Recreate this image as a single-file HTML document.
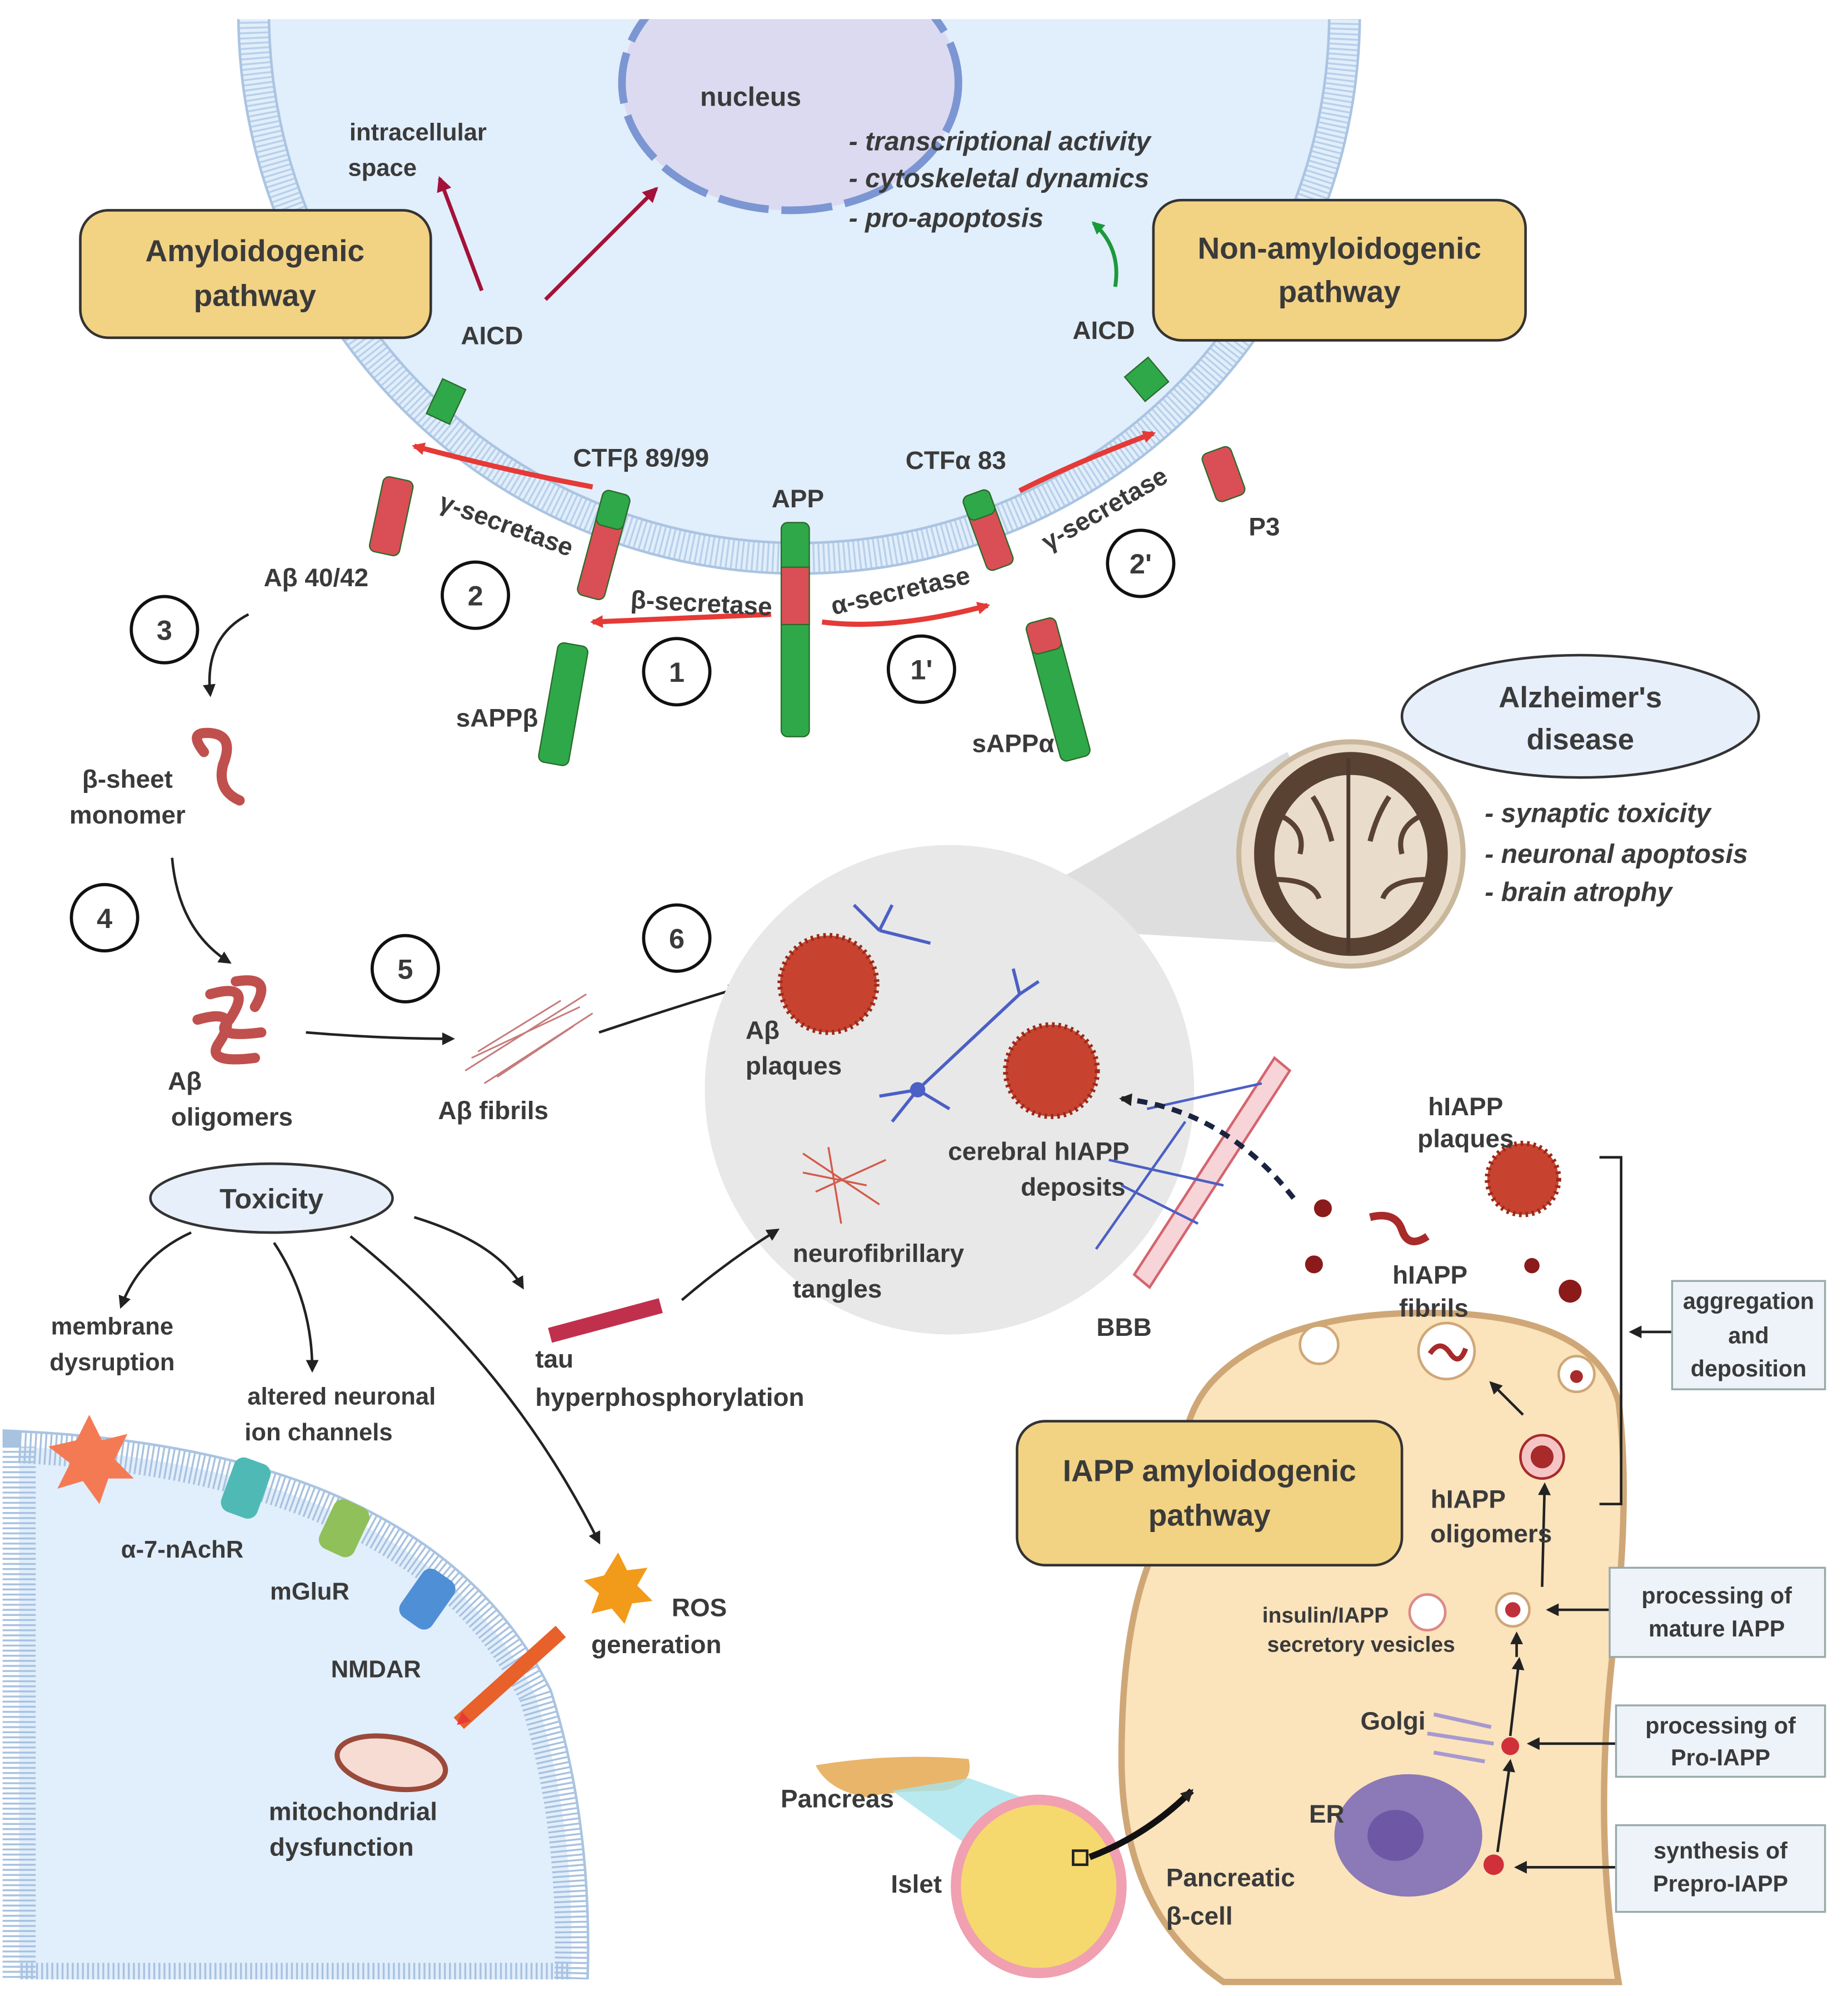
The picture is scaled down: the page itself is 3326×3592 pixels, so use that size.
<!DOCTYPE html>
<html><head><meta charset="utf-8"><style>
html,body{margin:0;padding:0;background:#fff}
svg{display:block}
text{font-family:"Liberation Sans",sans-serif;font-weight:bold;fill:#3a3a3a}
.it{font-style:italic;font-weight:bold}
</style></head><body>
<svg width="3326" height="3592" viewBox="0 0 1450 1566" xmlns="http://www.w3.org/2000/svg">
<defs>
<marker id="ar" markerWidth="10" markerHeight="10" refX="8" refY="5" orient="auto" markerUnits="userSpaceOnUse"><path d="M0,0 L10,5 L0,10 Z" fill="#e53a36"/></marker>
<marker id="ad" markerWidth="12" markerHeight="12" refX="10" refY="6" orient="auto" markerUnits="userSpaceOnUse"><path d="M0,0 L12,6 L0,12 Z" fill="#a3123a"/></marker>
<marker id="ak" markerWidth="10" markerHeight="10" refX="8" refY="5" orient="auto" markerUnits="userSpaceOnUse"><path d="M0,0 L10,5 L0,10 Z" fill="#222"/></marker>
<marker id="ag" markerWidth="10" markerHeight="10" refX="8" refY="5" orient="auto" markerUnits="userSpaceOnUse"><path d="M0,0 L10,5 L0,10 Z" fill="#1a9a3a"/></marker>
</defs>
<rect width="1450" height="1566" fill="#fff"/>
<!-- top cell -->
<circle cx="627" cy="10" r="440" fill="#e1eefb"/>
<circle cx="627" cy="10" r="428" fill="none" stroke="#b8d0ea" stroke-width="24" stroke-dasharray="1.5 2.5"/>
<circle cx="627" cy="10" r="440" fill="none" stroke="#aac4e2" stroke-width="2"/>
<circle cx="627" cy="10" r="416" fill="none" stroke="#aac4e2" stroke-width="2"/>
<rect x="0" y="0" width="1450" height="15" fill="#fff"/>
<!-- nucleus -->
<ellipse cx="620" cy="65" rx="132" ry="100" fill="#dcdaf0" stroke="#7b96d2" stroke-width="6" stroke-dasharray="40 10"/>
<rect x="0" y="0" width="1450" height="15" fill="#fff"/>
<text x="589" y="83" font-size="21" text-anchor="middle">nucleus</text>
<text x="666" y="118" font-size="21" class="it">- transcriptional activity</text>
<text x="666" y="147" font-size="21" class="it">- cytoskeletal dynamics</text>
<text x="666" y="178" font-size="21" class="it">- pro-apoptosis</text>
<text x="328" y="110" font-size="19" text-anchor="middle">intracellular</text>
<text x="300" y="138" font-size="19" text-anchor="middle">space</text>
<line x1="378" y1="228" x2="345" y2="140" stroke="#a3123a" stroke-width="3" marker-end="url(#ad)"/>
<line x1="428" y1="235" x2="515" y2="148" stroke="#a3123a" stroke-width="3" marker-end="url(#ad)"/>
<path d="M875,225 Q880,195 858,175" fill="none" stroke="#1a9a3a" stroke-width="3" marker-end="url(#ag)"/>
<!-- boxes -->
<rect x="63" y="165" width="275" height="100" rx="22" fill="#f2d283" stroke="#333" stroke-width="2"/>
<text x="200" y="205" font-size="24" text-anchor="middle">Amyloidogenic</text>
<text x="200" y="240" font-size="24" text-anchor="middle">pathway</text>
<rect x="905" y="157" width="292" height="110" rx="22" fill="#f2d283" stroke="#333" stroke-width="2"/>
<text x="1051" y="203" font-size="24" text-anchor="middle">Non-amyloidogenic</text>
<text x="1051" y="237" font-size="24" text-anchor="middle">pathway</text>
<text x="386" y="270" font-size="20" text-anchor="middle">AICD</text>
<text x="866" y="266" font-size="20" text-anchor="middle">AICD</text>
<text x="503" y="366" font-size="20" text-anchor="middle">CTFβ 89/99</text>
<text x="750" y="368" font-size="20" text-anchor="middle">CTFα 83</text>
<text x="626" y="398" font-size="20" text-anchor="middle">APP</text>
<text x="992" y="420" font-size="20" text-anchor="middle">P3</text>
<text x="248" y="460" font-size="20" text-anchor="middle">Aβ 40/42</text>
<text x="390" y="570" font-size="20" text-anchor="middle">sAPPβ</text>
<text x="795" y="590" font-size="20" text-anchor="middle">sAPPα</text>
<!-- cylinders -->
<g stroke="#2a6a2a" stroke-width="1">
<rect x="340" y="300" width="20" height="30" fill="#2fa84a" transform="rotate(25 350 315)"/>
<rect x="888" y="285" width="24" height="25" fill="#2fa84a" transform="rotate(-40 900 298)"/>
<rect x="613" y="410" width="22" height="168" rx="5" fill="#2fa84a"/>
<rect x="613" y="445" width="22" height="45" fill="#d94f55"/>
<g transform="rotate(15 473 430)"><rect x="462" y="385" width="22" height="85" rx="5" fill="#d94f55"/><rect x="462" y="385" width="22" height="28" rx="5" fill="#2fa84a"/></g>
<g transform="rotate(-20 775 415)"><rect x="764" y="385" width="22" height="62" rx="5" fill="#d94f55"/><rect x="764" y="385" width="22" height="20" rx="5" fill="#2fa84a"/></g>
<rect x="295" y="375" width="24" height="60" rx="5" fill="#d94f55" transform="rotate(12 307 405)"/>
<rect x="948" y="352" width="24" height="40" rx="5" fill="#d94f55" transform="rotate(-20 960 372)"/>
<rect x="430" y="505" width="24" height="95" rx="5" fill="#2fa84a" transform="rotate(10 442 552)"/>
<g transform="rotate(-15 830 540)"><rect x="818" y="485" width="24" height="112" rx="5" fill="#2fa84a"/><rect x="818" y="485" width="24" height="25" rx="5" fill="#d94f55"/></g>
</g>
<!-- red arrows -->
<line x1="605" y1="482" x2="465" y2="488" stroke="#e53a36" stroke-width="4" marker-end="url(#ar)"/>
<path d="M645,488 Q700,495 775,475" fill="none" stroke="#e53a36" stroke-width="4" marker-end="url(#ar)"/>
<path d="M465,382 Q400,370 325,350" fill="none" stroke="#e53a36" stroke-width="4" marker-end="url(#ar)"/>
<path d="M800,385 Q850,360 905,340" fill="none" stroke="#e53a36" stroke-width="4" marker-end="url(#ar)"/>
<text x="550" y="480" font-size="20" transform="rotate(3 550 480)" text-anchor="middle">β-secretase</text>
<text x="708" y="470" font-size="20" transform="rotate(-13 708 470)" text-anchor="middle">α-secretase</text>
<text x="395" y="418" font-size="20" transform="rotate(20 395 418)" text-anchor="middle">γ-secretase</text>
<text x="870" y="405" font-size="20" transform="rotate(-30 870 405)" text-anchor="middle">γ-secretase</text>
<!-- numbers -->
<g fill="#fff" stroke="#111" stroke-width="2.5">
<circle cx="531" cy="527" r="26"/><circle cx="723" cy="525" r="26"/><circle cx="373" cy="467" r="26"/><circle cx="895" cy="442" r="26"/>
<circle cx="129" cy="494" r="26"/><circle cx="82" cy="720" r="26"/><circle cx="318" cy="760" r="26"/><circle cx="531" cy="736" r="26"/>
</g>
<g font-size="22" text-anchor="middle">
<text x="531" y="535">1</text><text x="723" y="533">1'</text><text x="373" y="475">2</text><text x="895" y="450">2'</text>
<text x="129" y="502">3</text><text x="82" y="728">4</text><text x="318" y="768">5</text><text x="531" y="744">6</text>
</g>
<!-- aggregation path -->
<path d="M195,482 Q160,500 165,545" fill="none" stroke="#222" stroke-width="2" marker-end="url(#ak)"/>
<path d="M160,590 Q148,575 162,575 Q185,575 175,600 Q170,620 188,628" fill="none" stroke="#c0504d" stroke-width="8" stroke-linecap="round"/>
<text x="100" y="618" font-size="20" text-anchor="middle">β-sheet</text>
<text x="100" y="646" font-size="20" text-anchor="middle">monomer</text>
<path d="M135,673 Q140,730 180,755" fill="none" stroke="#222" stroke-width="2" marker-end="url(#ak)"/>
<g fill="none" stroke="#c0504d" stroke-width="8" stroke-linecap="round">
<path d="M165,780 Q200,770 180,800 Q165,815 205,810"/><path d="M155,800 Q190,790 172,818 Q160,835 200,830"/><path d="M185,770 Q215,765 200,790"/>
</g>
<text x="145" y="855" font-size="20" text-anchor="middle">Aβ</text>
<text x="182" y="883" font-size="20" text-anchor="middle">oligomers</text>
<path d="M240,810 Q300,815 355,815" fill="none" stroke="#222" stroke-width="2" marker-end="url(#ak)"/>
<g stroke="#c77a7a" stroke-width="1.3">
<line x1="365" y1="840" x2="460" y2="780"/><line x1="370" y1="830" x2="455" y2="790"/><line x1="380" y1="850" x2="465" y2="795"/><line x1="375" y1="825" x2="440" y2="785"/><line x1="390" y1="845" x2="450" y2="805"/>
</g>
<text x="387" y="878" font-size="20" text-anchor="middle">Aβ fibrils</text>
<path d="M470,810 Q530,790 580,775" fill="none" stroke="#222" stroke-width="2" marker-end="url(#ak)"/>
<!-- grey zoom -->
<polygon points="1010,590 1095,745 680,720 830,690" fill="#d6d6d6" opacity="0.8"/>
<circle cx="745" cy="855" r="192" fill="#e8e8e8"/>
<circle cx="1060" cy="670" r="88" fill="#eadccb" stroke="#c9b79c" stroke-width="4"/>
<ellipse cx="1060" cy="670" rx="76" ry="80" fill="#5a4232"/>
<ellipse cx="1060" cy="672" rx="60" ry="64" fill="#e9dccb"/>
<g stroke="#5a4232" stroke-width="4" fill="none">
<path d="M1005,640 Q1025,650 1020,670 M1000,690 Q1030,690 1035,705 M1115,640 Q1095,650 1100,670 M1120,690 Q1090,690 1085,705 M1030,625 Q1040,640 1045,660 M1090,625 Q1080,640 1075,660"/>
</g>
<line x1="1058" y1="595" x2="1058" y2="748" stroke="#4d3a2e" stroke-width="3"/>
<ellipse cx="1240" cy="562" rx="140" ry="48" fill="#e7effb" stroke="#333" stroke-width="2"/>
<text x="1240" y="555" font-size="23" text-anchor="middle">Alzheimer's</text>
<text x="1240" y="588" font-size="23" text-anchor="middle">disease</text>
<text x="1165" y="645" font-size="21" class="it">- synaptic toxicity</text>
<text x="1165" y="677" font-size="21" class="it">- neuronal apoptosis</text>
<text x="1165" y="707" font-size="21" class="it">- brain atrophy</text>
<circle cx="650" cy="772" r="38" fill="#c8432f" stroke="#9a2a1a" stroke-width="4" stroke-dasharray="2 3"/>
<circle cx="825" cy="840" r="36" fill="#c8432f" stroke="#9a2a1a" stroke-width="4" stroke-dasharray="2 3"/>
<g stroke="#4b5fc4" stroke-width="2.5" fill="none">
<path d="M720,855 L800,780 M720,855 L690,860 M720,855 L700,880 M720,855 L745,870 M800,780 L795,760 M800,780 L815,770"/>
<path d="M690,730 L730,740 M690,730 L670,710 M690,730 L700,710"/>
</g>
<circle cx="720" cy="855" r="6" fill="#4b5fc4"/>
<g stroke="#d45a4a" stroke-width="1.5" fill="none"><path d="M630,905 L690,945 M640,935 L695,910 M630,920 L680,930 M650,900 L660,960"/></g>
<text x="585" y="815" font-size="20">Aβ</text>
<text x="585" y="843" font-size="20">plaques</text>
<text x="815" y="910" font-size="20" text-anchor="middle">cerebral hIAPP</text>
<text x="842" y="938" font-size="20" text-anchor="middle">deposits</text>
<text x="622" y="990" font-size="20">neurofibrillary</text>
<text x="622" y="1018" font-size="20">tangles</text>
<!-- BBB -->
<path d="M890,1000 L1000,830 L1012,840 L902,1010 Z" fill="#f6d4d8" stroke="#d5646e" stroke-width="2"/>
<g stroke="#4b5fc4" stroke-width="2" fill="none"><path d="M860,980 L930,880 M870,910 L960,930 M900,870 L990,850 M940,960 L880,930"/></g>
<text x="882" y="1048" font-size="20" text-anchor="middle">BBB</text>
<path d="M1015,940 Q960,870 880,862" fill="none" stroke="#1a2340" stroke-width="4" stroke-dasharray="8 6" marker-end="url(#ak)"/>
<!-- toxicity -->
<ellipse cx="213" cy="940" rx="95" ry="27" fill="#e7effb" stroke="#333" stroke-width="2"/>
<text x="213" y="948" font-size="22" text-anchor="middle">Toxicity</text>
<path d="M150,967 Q110,985 95,1025" fill="none" stroke="#222" stroke-width="2" marker-end="url(#ak)"/>
<path d="M215,975 Q245,1020 245,1075" fill="none" stroke="#222" stroke-width="2" marker-end="url(#ak)"/>
<path d="M275,970 Q400,1070 470,1210" fill="none" stroke="#222" stroke-width="2" marker-end="url(#ak)"/>
<path d="M325,955 Q390,975 410,1010" fill="none" stroke="#222" stroke-width="2" marker-end="url(#ak)"/>
<path d="M535,1020 Q570,990 610,965" fill="none" stroke="#222" stroke-width="2" marker-end="url(#ak)"/>
<rect x="430" y="1030" width="90" height="12" fill="#c0304d" transform="rotate(-15 475 1036)"/>
<text x="88" y="1047" font-size="19" text-anchor="middle">membrane</text>
<text x="88" y="1075" font-size="19" text-anchor="middle">dysruption</text>
<text x="268" y="1102" font-size="19" text-anchor="middle">altered neuronal</text>
<text x="250" y="1130" font-size="19" text-anchor="middle">ion channels</text>
<text x="420" y="1073" font-size="20">tau</text>
<text x="420" y="1103" font-size="20">hyperphosphorylation</text>
<!-- bottom-left cell -->
<path d="M15,1135 Q330,1150 420,1330 Q452,1430 448,1553 L15,1553 Z" fill="#e1eefb" stroke="#a8c2e0" stroke-width="26" stroke-dasharray="1.5 2.5"/>
<path d="M15,1123 Q338,1138 432,1326 Q465,1430 461,1553" fill="none" stroke="#aac4e2" stroke-width="2"/>
<rect x="0" y="1553" width="1450" height="13" fill="#fff"/>
<polygon points="70,1110 80,1130 100,1125 90,1145 105,1160 85,1160 78,1180 65,1162 45,1168 55,1148 38,1135 60,1130" fill="#f47a54"/>
<rect x="178" y="1145" width="30" height="45" rx="8" fill="#4fbab5" transform="rotate(20 193 1167)"/>
<rect x="255" y="1178" width="30" height="42" rx="8" fill="#8fc05a" transform="rotate(25 270 1199)"/>
<rect x="320" y="1232" width="30" height="45" rx="8" fill="#4f8fd6" transform="rotate(35 335 1255)"/>
<text x="143" y="1222" font-size="19" text-anchor="middle">α-7-nAchR</text>
<text x="243" y="1255" font-size="19" text-anchor="middle">mGluR</text>
<text x="295" y="1316" font-size="19" text-anchor="middle">NMDAR</text>
<polygon points="485,1218 492,1232 508,1230 500,1244 512,1256 496,1258 490,1274 480,1262 464,1266 470,1250 458,1240 474,1236" fill="#f29a1a"/>
<text x="527" y="1268" font-size="20">ROS</text>
<text x="515" y="1297" font-size="20" text-anchor="middle">generation</text>
<line x1="440" y1="1280" x2="360" y2="1352" stroke="#e8602a" stroke-width="12" marker-end="url(#ar)"/>
<ellipse cx="307" cy="1383" rx="43" ry="20" fill="#f7dcd4" stroke="#9a4a3a" stroke-width="4" transform="rotate(10 307 1383)"/>
<text x="277" y="1428" font-size="20" text-anchor="middle">mitochondrial</text>
<text x="268" y="1456" font-size="20" text-anchor="middle">dysfunction</text>
<!-- beta cell -->
<path d="M950,1085 Q1000,1030 1120,1030 Q1250,1030 1270,1100 Q1280,1180 1265,1300 Q1250,1440 1270,1555 L960,1555 Q880,1500 880,1380 Q880,1230 930,1180 Q920,1120 950,1085 Z" fill="#fbe3bb" stroke="#cfa777" stroke-width="5"/>
<rect x="798" y="1115" width="302" height="113" rx="22" fill="#f2d283" stroke="#333" stroke-width="2"/>
<text x="949" y="1162" font-size="24" text-anchor="middle">IAPP amyloidogenic</text>
<text x="949" y="1197" font-size="24" text-anchor="middle">pathway</text>
<circle cx="1035" cy="1055" r="15" fill="#fff" stroke="#cfa777" stroke-width="2"/>
<circle cx="1135" cy="1060" r="22" fill="#fff" stroke="#cfa777" stroke-width="2"/>
<path d="M1122,1062 Q1130,1050 1138,1062 Q1145,1072 1150,1058" fill="none" stroke="#a82a2a" stroke-width="4"/>
<circle cx="1237" cy="1078" r="14" fill="#fff" stroke="#cfa777" stroke-width="2"/><circle cx="1237" cy="1080" r="5" fill="#a82a2a"/>
<circle cx="1210" cy="1143" r="17" fill="#f5c5c5" stroke="#a82a2a" stroke-width="2"/><circle cx="1210" cy="1143" r="9" fill="#a82a2a"/>
<circle cx="1187" cy="1263" r="13" fill="#fff" stroke="#cfa777" stroke-width="2"/><circle cx="1187" cy="1263" r="6" fill="#c0303a"/>
<circle cx="1120" cy="1265" r="14" fill="#fff" stroke="#d88" stroke-width="2"/>
<circle cx="1185" cy="1370" r="7" fill="#d0303a"/>
<circle cx="1172" cy="1463" r="8" fill="#d0303a"/>
<ellipse cx="1105" cy="1440" rx="58" ry="48" fill="#8b79b8"/><ellipse cx="1095" cy="1440" rx="22" ry="20" fill="#6e58a6"/>
<g stroke="#a898d0" stroke-width="3"><line x1="1125" y1="1345" x2="1170" y2="1355"/><line x1="1120" y1="1360" x2="1172" y2="1368"/><line x1="1125" y1="1375" x2="1165" y2="1382"/></g>
<g fill="#8b1a1a"><circle cx="1038" cy="948" r="7"/><circle cx="1031" cy="992" r="7"/><circle cx="1202" cy="993" r="6"/><circle cx="1232" cy="1013" r="9"/></g>
<circle cx="1195" cy="925" r="28" fill="#c8432f" stroke="#9a2a1a" stroke-width="4" stroke-dasharray="2 3"/>
<path d="M1075,955 Q1095,950 1100,965 Q1105,980 1120,970" fill="none" stroke="#a82a2a" stroke-width="6"/>
<g stroke="#222" stroke-width="2" fill="none">
<line x1="1190" y1="1300" x2="1190" y2="1282" marker-end="url(#ak)"/>
<line x1="1185" y1="1362" x2="1192" y2="1302" marker-end="url(#ak)"/>
<line x1="1175" y1="1453" x2="1185" y2="1382" marker-end="url(#ak)"/>
<line x1="1210" y1="1245" x2="1212" y2="1165" marker-end="url(#ak)"/>
<line x1="1195" y1="1110" x2="1170" y2="1085" marker-end="url(#ak)"/>
<path d="M1255,908 L1272,908 L1272,1180 L1255,1180"/>
<line x1="1312" y1="1045" x2="1280" y2="1045" marker-end="url(#ak)"/>
<line x1="1263" y1="1263" x2="1215" y2="1263" marker-end="url(#ak)"/>
<line x1="1268" y1="1368" x2="1200" y2="1368" marker-end="url(#ak)"/>
<line x1="1268" y1="1465" x2="1190" y2="1465" marker-end="url(#ak)"/>
</g>
<text x="1150" y="875" font-size="20" text-anchor="middle">hIAPP</text>
<text x="1150" y="900" font-size="20" text-anchor="middle">plaques</text>
<text x="1122" y="1007" font-size="20" text-anchor="middle">hIAPP</text>
<text x="1125" y="1033" font-size="20" text-anchor="middle">fibrils</text>
<text x="1152" y="1183" font-size="20" text-anchor="middle">hIAPP</text>
<text x="1170" y="1210" font-size="20" text-anchor="middle">oligomers</text>
<text x="1040" y="1273" font-size="17" text-anchor="middle">insulin/IAPP</text>
<text x="1068" y="1296" font-size="17" text-anchor="middle">secretory vesicles</text>
<text x="1093" y="1357" font-size="20" text-anchor="middle">Golgi</text>
<text x="1041" y="1430" font-size="20" text-anchor="middle">ER</text>
<g fill="#eef3fa" stroke="#9aa" stroke-width="1.5">
<rect x="1312" y="1005" width="120" height="85"/><rect x="1263" y="1230" width="169" height="70"/>
<rect x="1268" y="1338" width="164" height="56"/><rect x="1268" y="1432" width="164" height="68"/>
</g>
<g font-size="18" text-anchor="middle">
<text x="1372" y="1027">aggregation</text><text x="1372" y="1054">and</text><text x="1372" y="1080">deposition</text>
<text x="1347" y="1258">processing of</text><text x="1347" y="1284">mature IAPP</text>
<text x="1350" y="1360">processing of</text><text x="1350" y="1385">Pro-IAPP</text>
<text x="1350" y="1458">synthesis of</text><text x="1350" y="1484">Prepro-IAPP</text>
</g>
<!-- pancreas -->
<path d="M640,1385 Q700,1375 760,1380 Q765,1400 740,1405 Q700,1405 680,1410 Q650,1405 640,1385 Z" fill="#e9b56a"/>
<polygon points="700,1405 760,1395 830,1420 790,1470" fill="#a8e4ec" opacity="0.8"/>
<ellipse cx="815" cy="1480" rx="65" ry="68" fill="#f5d86e" stroke="#f0a0b0" stroke-width="8"/>
<rect x="842" y="1452" width="11" height="11" fill="none" stroke="#222" stroke-width="2"/>
<path d="M855,1457 Q900,1440 935,1405" fill="none" stroke="#111" stroke-width="5" marker-end="url(#ak)"/>
<text x="657" y="1418" font-size="20" text-anchor="middle">Pancreas</text>
<text x="719" y="1485" font-size="20" text-anchor="middle">Islet</text>
<text x="915" y="1480" font-size="20">Pancreatic</text>
<text x="915" y="1510" font-size="20">β-cell</text>
</svg>
</body></html>
